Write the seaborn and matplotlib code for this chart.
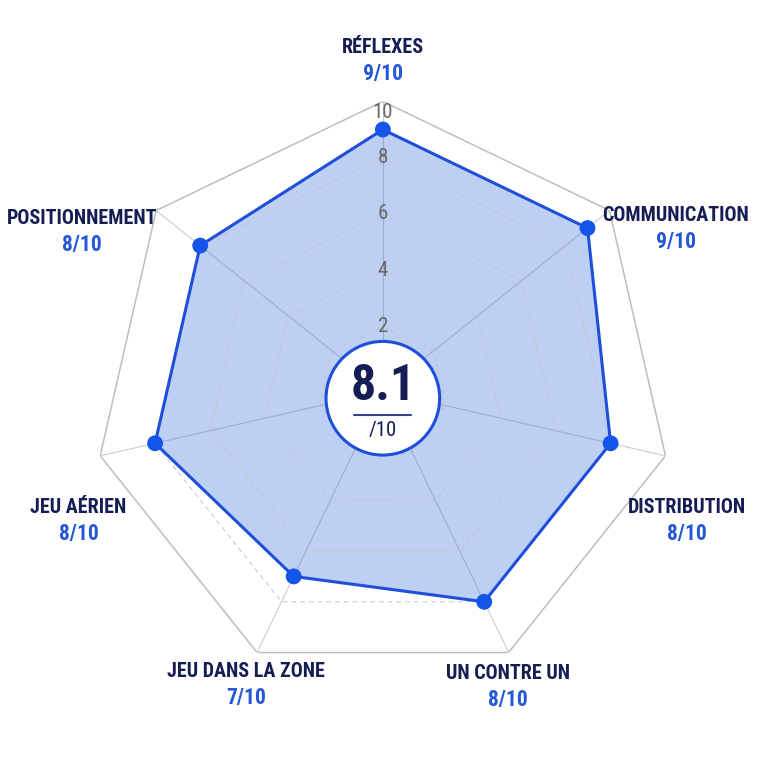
import numpy as np
import pandas as pd
import matplotlib
matplotlib.use('Agg')
import matplotlib.pyplot as plt
from matplotlib.patches import Circle
import seaborn as sns

sns.set_theme(style='white')
plt.rcParams['font.family'] = ['Liberation Sans Narrow', 'Roboto Condensed', 'DejaVu Sans']

# donnees
categories = ['RÉFLEXES', 'COMMUNICATION', 'DISTRIBUTION', 'UN CONTRE UN',
              'JEU DANS LA ZONE', 'JEU AÉRIEN', 'POSITIONNEMENT']
notes = [9, 9, 8, 8, 7, 8, 8]
note_max = 10
graduations = [2, 4, 6, 8, 10]
moyenne = round(sum(notes) / len(notes), 1)

# mise en page des etiquettes (angle en degres depuis le haut, rayon)
label_angle = [0, 61, 113, 157, 205, 247, 298]
label_r = [11.45, 11.6, 11.45, 11.1, 11.2, 11.45, 11.8]

navy = '#151d55'
bleu = '#1f4fd8'
bleu_txt = '#2456d6'
gris = '#c4c4c4'

n = len(categories)
angles = np.linspace(0, 2 * np.pi, n, endpoint=False)
ang_ferme = np.append(angles, 2 * np.pi)

df = pd.DataFrame({'angle': ang_ferme, 'note': notes + notes[:1]})

fig = plt.figure(figsize=(7.68, 7.68), dpi=100)
ax = fig.add_axes([0.121, 0.113, 0.755, 0.755], projection='polar')
ax.set_theta_offset(np.pi / 2)
ax.set_theta_direction(-1)
ax.set_ylim(-0.3, note_max)
ax.grid(False)
ax.spines['polar'].set_visible(False)
ax.set_xticks([])
ax.set_yticks([])
ax.set_facecolor('white')

# grille polygonale
for g in graduations:
    if g == note_max:
        ax.plot(ang_ferme, [g] * (n + 1), color='#bdbdbd', lw=1.1, zorder=1)
    else:
        ax.plot(ang_ferme, [g] * (n + 1), color=gris, lw=0.7, ls=(0, (5, 4)), zorder=2.5)
for a in angles:
    ax.plot([a, a], [-0.3, note_max], color='#cccccc', lw=0.8, zorder=1)

# donnees
ax.fill(df['angle'], df['note'], color='#3b6fe0', alpha=0.33, lw=0, zorder=2)
sns.lineplot(data=df, x='angle', y='note', sort=False, estimator=None, color=bleu,
             lw=2.2, ax=ax, zorder=3, legend=False)
sns.scatterplot(data=df.iloc[:-1], x='angle', y='note', color='#1554e8', s=130,
                edgecolor='none', ax=ax, zorder=4, legend=False)
ax.set_xlabel('')
ax.set_ylabel('')

# graduations
for g in graduations:
    pos = g - 0.38 if g == note_max else g
    ax.text(0, pos, str(g), ha='center', va='center', fontsize=15,
            color='#676767', zorder=3)

# etiquettes
for cat, v, la, lr in zip(categories, notes, label_angle, label_r):
    th = np.deg2rad(la)
    ax.annotate(cat, xy=(th, lr), xytext=(0, 9.5), textcoords='offset points',
                ha='center', va='center', fontsize=14.5, fontweight='bold',
                color=navy, annotation_clip=False)
    ax.annotate(f'{v}/{note_max}', xy=(th, lr), xytext=(0, -9.5),
                textcoords='offset points', ha='center', va='center',
                fontsize=15.5, fontweight='bold', color=bleu_txt,
                annotation_clip=False)

# score central
ax.add_patch(Circle((0.5, 0.488), 0.098, transform=ax.transAxes, facecolor='white',
                    edgecolor=bleu, lw=2.2, zorder=6, clip_on=False))
ax.text(0.5, 0.508, f'{moyenne}', transform=ax.transAxes, ha='center', va='center',
        fontsize=36, fontweight='bold', color=navy, zorder=7)
ax.plot([0.45, 0.548], [0.459, 0.459], transform=ax.transAxes, color='#3a3f8a',
        lw=1.5, zorder=7)
ax.text(0.5, 0.432, f'/{note_max}', transform=ax.transAxes, ha='center', va='center',
        fontsize=15, color=navy, zorder=7)

fig.savefig('out.png', dpi=100, facecolor='white')
